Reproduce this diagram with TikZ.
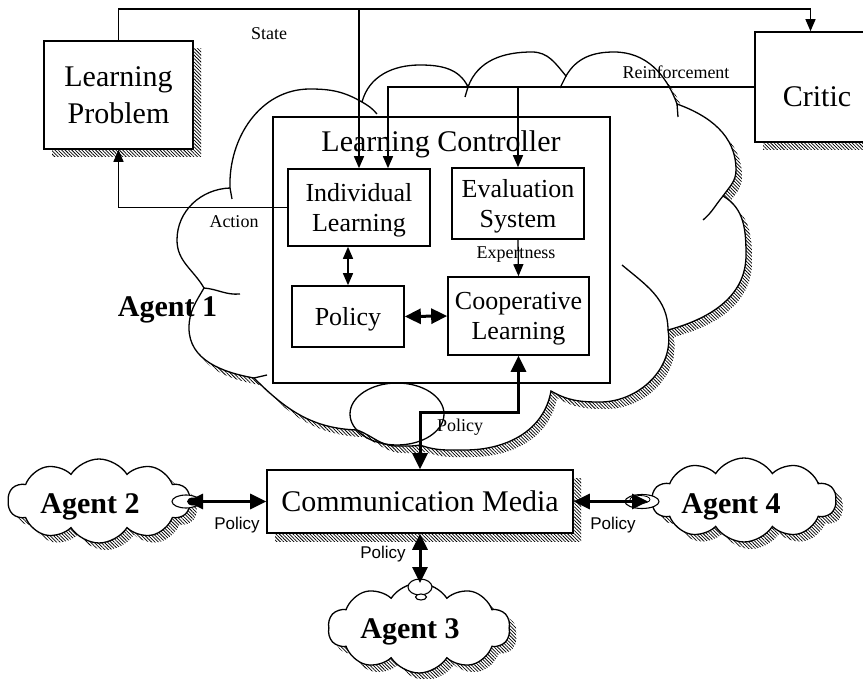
\documentclass[tikz,border=0pt]{standalone}
\usepackage{fontspec}
\setmainfont{Liberation Serif}
\newfontfamily\sansf{Liberation Sans}
\usetikzlibrary{shapes.symbols,shapes.geometric,patterns.meta,arrows.meta,shadows}

\def\bigcloud{(230,-188) to[out=92,in=180] (310,-89) to[out=0,in=150] (362,-102)
 to[out=75,in=180] (420,-65) to[out=0,in=115] (468,-87)
 to[out=70,in=180] (532,-52) to[out=0,in=130] (566,-76)
 to[out=60,in=180] (614,-52) to[out=0,in=110] (677,-104)
 to[out=-20,in=90] (736,-170) to[out=-90,in=55] (723,-196)
 to[out=-30,in=90] (746,-255) to[out=-90,in=15] (668,-330)
 to[out=-80,in=0] (600,-402) to[out=180,in=-30] (551,-391)
 to[out=-100,in=0] (465,-450) to[out=180,in=-20] (420,-445)
 to[out=190,in=0] (397,-446) to[out=180,in=-20] (357,-430)
 to[out=178,in=-45] (254,-378)
 to[out=170,in=-90] (189,-328) to[out=90,in=-120] (204,-288)
 to[out=120,in=-90] (177,-240) to[out=90,in=182] (230,-188) -- cycle}

\tikzset{
  hatch/.style={pattern={Lines[angle=-45,distance=2.4pt,line width=0.75pt]}},
  box/.style={draw,line width=1.6pt,fill=white,inner sep=0pt,align=center,text depth=0pt},
  sbox/.style={general shadow={shadow xshift=8pt,shadow yshift=-8pt,hatch}},
  big/.style={font=\fontsize{30}{37}\selectfont},
  mid/.style={font=\fontsize{26}{30}\selectfont},
  lab/.style={font=\fontsize{18}{20}\selectfont,inner sep=0pt},
  slab/.style={font=\sansf\fontsize{17}{19}\selectfont,inner sep=0pt},
  agent/.style={font=\bfseries\fontsize{30}{34}\selectfont,inner sep=0pt},
  cloudline/.style={line width=1.3pt},
  agcloud/.style={cloud,cloud puffs=10,cloud puff arc=115,cloud ignores aspect,draw,line width=1.3pt,fill=white,inner sep=0pt,
     general shadow={shadow xshift=7pt,shadow yshift=-7pt,hatch}},
  knob/.style={ellipse,draw,line width=1.1pt,fill=white,inner sep=0pt},
  arr/.style={line width=1.3pt,-{Triangle[length=12pt,width=10pt]}},
  sboth/.style={line width=1.3pt,{Triangle[length=12pt,width=10pt]}-{Triangle[length=12pt,width=10pt]}},
  tboth/.style={line width=3pt,{Triangle[length=16pt,width=15pt]}-{Triangle[length=16pt,width=15pt]}},
}

\begin{document}
\begin{tikzpicture}[x=1pt,y=1pt]
\useasboundingbox (0,0) rectangle (863,-679);
\clip (0,0) rectangle (863,-679);

% big cloud of Agent 1
\fill[hatch,shift={(6,-7)}] \bigcloud;
\draw[cloudline,fill=white] \bigcloud;
\draw[cloudline] (397,-414) ellipse (47 and 31);
\draw[cloudline] (230,-188) -- (232,-199);
\draw[cloudline] (204,-288) to[out=-5,in=185] (240,-294);
\draw[cloudline] (362,-102) to[out=-30,in=130] (377,-114);
\draw[cloudline] (468,-87) -- (465,-97);
\draw[cloudline] (566,-76) -- (560,-88);
\draw[cloudline] (677,-104) -- (678,-117);
\draw[cloudline] (723,-196) to[out=-130,in=40] (703,-220);
\draw[cloudline] (668,-330) to[out=90,in=-40] (622,-265);
\draw[cloudline] (254,-378) -- (267,-375);

% boxes
\node[box,minimum width=337pt,minimum height=266pt] (lc) at (441.5,-250) {};
\node[big,anchor=base,inner sep=0pt] (lct) at (441,-152) {Learning Controller};
\node[box,sbox,big,minimum width=149pt,minimum height=108pt] (lp) at (118.5,-95) {Learning\\Problem};
\node[box,sbox,minimum width=124pt,minimum height=110pt] (cr) at (817,-87) {};
\node[big,anchor=base,inner sep=0pt] (crt) at (817,-107) {Critic};
\node[box,mid,minimum width=142pt,minimum height=77pt] (il) at (359,-207.5) {Individual\\Learning};
\node[box,mid,minimum width=132pt,minimum height=71pt] (ev) at (518,-203.5) {Evaluation\\System};
\node[box,mid,minimum width=141pt,minimum height=78pt] (co) at (518.5,-316) {Cooperative\\Learning};
\node[box,mid,minimum width=112pt,minimum height=61pt] (pol) at (348,-316.5) {Policy};
\node[box,sbox,big,minimum width=306pt,minimum height=63pt] (cm) at (420,-501.5) {Communication Media};

% agent clouds
\node[agcloud,minimum width=182pt,minimum height=84pt] (a2) at (99,-501) {};
\node[agcloud,minimum width=184pt,minimum height=84pt] (a4) at (744,-500) {};
\node[agcloud,minimum width=182pt,minimum height=90pt] (a3) at (419,-628) {};
\node[knob,minimum width=28pt,minimum height=13pt] (k2) at (186,-501.5) {};
\node[ellipse,fill=black,inner sep=0pt,minimum width=12pt,minimum height=8pt] (k2i) at (193,-501.5) {};
\node[knob,minimum width=34pt,minimum height=14pt] (k4) at (642,-501.5) {};
\node[ellipse,draw,line width=0.8pt,inner sep=0pt,minimum width=20pt,minimum height=8pt] (k4i) at (640,-499.5) {};
\node[knob,minimum width=24pt,minimum height=16pt] (k3) at (420,-587) {};
\node[knob,minimum width=11pt,minimum height=6pt] (k3i) at (421,-597) {};

% connectors
\coordinate (toprow) at (0,-9);
\draw[arr] (lp.north) -- (lp.north |- toprow) -| ([xshift=-6.5pt]cr.north);
\draw[arr] (il.north |- toprow) -- (il.north);
\draw[arr] (cr.west) -| ([xshift=29pt]il.north);
\draw[arr] (ev.north |- cr.west) -- (ev.north);
\draw[arr] (il.west) -| (lp.south);
\draw[arr] (ev.south) -- (co.north);
\draw[sboth] (pol.north |- il.south) -- (pol.north);
\draw[tboth] (pol.east) -- (co.west);
\draw[tboth] (co.south) -- ++(0,-57) -| (cm.north);
\draw[tboth] (cm.west) -- ([xshift=1pt]k2.center);
\draw[tboth] (cm.east) -- ([xshift=6pt]k4.center);
\draw[tboth] (cm.south) -- ([yshift=4pt]k3.center);

% labels
\node[lab] (lstate) at (269,-34) {State};
\node[lab] (lreinf) at (676,-72) {Reinforcement};
\node[lab] (laction) at (234,-222) {Action};
\node[lab] (lexp) at (516,-255) {Expertness};
\node[lab] (lpol1) at (460,-427) {Policy};
\node[slab] (lpol2) at (237,-525) {Policy};
\node[slab] (lpol4) at (613,-525) {Policy};
\node[slab] (lpol3) at (383,-554) {Policy};
\node[agent,anchor=base] (ag1) at (167.5,-317) {Agent 1};
\node[agent,anchor=base] (ag2) at (90,-513) {Agent 2};
\node[agent,anchor=base] (ag4) at (731,-513) {Agent 4};
\node[agent,anchor=base] (ag3) at (410,-638) {Agent 3};
\end{tikzpicture}
\end{document}
